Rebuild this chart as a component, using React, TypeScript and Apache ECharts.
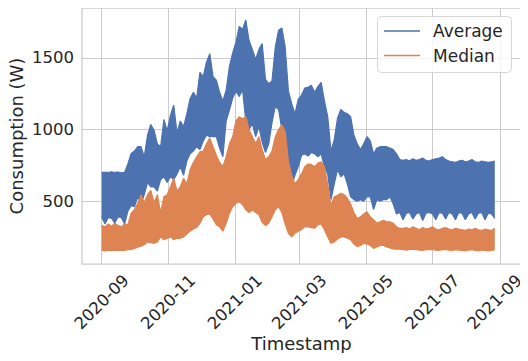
import React, { useEffect, useRef } from "react";
import * as echarts from "echarts";

// Days since 2020-09-01; daily-cycle peaks and troughs read every 3 days (day 0, 3, ..., 363).
const stepDays = 3;
const axisStartDay = -18;
const axisEndDay = 384;

const avgPeaks = [
  700, 700, 700, 705, 700, 702, 698, 700, 760,
  833, 850, 880, 880, 810, 960, 1035, 995, 900, 880, 1070, 990, 1100, 1170, 975, 1060, 1020, 1110, 1215, 1260, 1220, 1400,
  1370, 1470, 1530, 1370, 1345, 1260, 1200, 1275, 1440, 1535, 1610, 1720, 1700, 1765, 1620, 1560, 1490, 1560, 1600, 1350,
  1320, 1340, 1577, 1693, 1710, 1580, 1270, 1180, 1110, 1210,
  1240, 1290, 1295, 1310, 1260, 1300, 1330, 1200, 1090, 850, 930, 1080, 1140, 1120, 1110, 1090, 960, 900, 860, 900, 950,
  920, 830, 870, 880, 880, 880, 870, 860, 830, 790,
  785, 790, 780, 795, 785, 790, 800, 785, 780, 790, 795, 800, 810, 790, 780, 775, 770, 780, 785, 775, 780, 790, 775, 770,
  780, 775, 770, 775, 780, 775,
];

const avgTroughs = [
  390, 340, 385, 380, 345, 390, 385, 340,
  430, 470, 460, 530, 480, 545, 630, 600, 600, 570, 650, 670, 630, 670, 650, 690, 740, 680, 780, 830, 850, 880,
  860, 920, 960, 950, 950, 950, 870, 810, 1060, 1135, 1220, 1270, 1230, 1280, 1060, 1000, 1040, 950, 1020, 910, 840, 900,
  1050, 1160, 1140, 1000, 870, 760, 610, 680,
  740, 820, 830, 815, 840, 830, 810, 830, 740, 690, 510, 620, 720, 670, 690, 620, 530, 510, 500, 510, 500, 530, 530, 440,
  510, 500, 510, 510, 530, 480, 410,
  420, 370, 415, 420, 375, 410, 420, 365, 415, 420, 410, 370, 420, 415, 375, 420, 410, 370, 420, 415, 370, 410, 420, 375,
  415, 420, 370, 415, 410, 380,
];

const medPeaks = [
  330, 320, 340, 325, 345, 330, 320, 340, 335,
  415, 440, 485, 545, 490, 545, 575, 490, 545, 420, 530, 545, 600, 660, 570, 600, 660, 620, 720, 770, 810, 845,
  850, 900, 940, 880, 820, 770, 740, 810, 900, 950, 1060, 1090, 1075, 1090, 1000, 950, 900, 950, 860, 790, 810, 850, 950,
  1000, 1031, 990, 780, 680, 620, 650,
  690, 740, 760, 755, 740, 765, 775, 740, 620, 470, 530, 540, 555, 545, 520, 480, 420, 380, 390, 410, 425, 390, 370, 345,
  355, 365, 355, 355, 345, 320, 310,
  310, 315, 305, 320, 310, 300, 315, 305, 310, 320, 305, 300, 310, 315, 305, 300, 310, 305, 300, 295, 305, 300, 310, 300,
  295, 305, 300, 295, 310, 320,
];

const medTroughs = [
  155, 152, 155, 158, 155, 156, 158, 155,
  160, 162, 170, 178, 185, 195, 215, 210, 205, 215, 250, 230, 240, 250, 230, 240, 240, 250, 270, 290, 305, 315,
  345, 390, 405, 410, 375, 335, 320, 290, 345, 415, 460, 485, 495, 475, 440, 420, 440, 420, 405, 350, 330, 345, 390, 440,
  460, 420, 340, 275, 250, 275,
  290, 300, 320, 320, 315, 310, 335, 340, 300, 250, 205, 215, 235, 250, 250, 240, 230, 200, 182, 190, 205, 200, 190, 170,
  180, 190, 190, 180, 172, 165, 165,
  165, 160, 158, 162, 165, 160, 158, 155, 160, 163, 160, 158, 155, 160, 162, 158, 155, 160, 158, 155, 152, 158, 160, 155,
  152, 158, 155, 152, 155, 160,
];

const tickDays = [0, 61, 122, 181, 242, 303, 365];
const tickLabels = ["2020-09", "2020-11", "2021-01", "2021-03", "2021-05", "2021-07", "2021-09"];
const yTicks = [500, 1000, 1500];
const seriesNames = ["Average", "Median"];

const FONT = "DejaVu Sans";
const TXT = "#262626";
const BLUE = "#4c72b0";
const ORANGE = "#dd8452";

// hidden category axis: one slot per 3-day sample, padded to the plot margins
const slotCount = (axisEndDay - axisStartDay) / stepDays + 1;
const slotDays = Array.from({ length: slotCount }, (_, i) => String(axisStartDay + i * stepDays));
const lead = (0 - axisStartDay) / stepDays;

function pad(values: (number | null)[]) {
  const out: (number | null)[] = new Array(slotCount).fill(null);
  values.forEach((v, i) => {
    out[lead + i] = v;
  });
  return out;
}

function band(name: string, color: string, peaks: number[], troughs: number[], z: number) {
  const stack = name + "-band";
  const common = {
    type: "line",
    xAxisIndex: 1,
    stack,
    z,
    symbol: "none",
    showSymbol: false,
    silent: true,
    color,
    connectNulls: false,
  };
  return [
    {
      ...common,
      name: name + " low",
      lineStyle: { color, width: 1.2 },
      data: pad(troughs),
    },
    {
      ...common,
      name,
      lineStyle: { color, width: 1.2 },
      areaStyle: { color, opacity: 1 },
      data: pad(peaks.map((p, i) => p - troughs[i])),
    },
  ];
}

function legendGraphics() {
  const colors = [BLUE, ORANGE];
  const rowY = [31, 55.5];
  const els: any[] = [
    {
      type: "rect",
      z: 100,
      shape: { x: 377.5, y: 16.5, width: 134, height: 56, r: 4 },
      style: { fill: "rgba(255,255,255,0.8)", stroke: "#d6d6d6", lineWidth: 1 },
    },
  ];
  seriesNames.forEach((n, i) => {
    els.push({
      type: "line",
      z: 101,
      shape: { x1: 384, y1: rowY[i], x2: 420, y2: rowY[i] },
      style: { stroke: colors[i], lineWidth: 1.5 },
    });
    els.push({
      type: "text",
      z: 101,
      x: 433,
      y: rowY[i],
      style: {
        text: n,
        fontFamily: FONT,
        fontSize: 17,
        fill: TXT,
        verticalAlign: "middle",
        textVerticalAlign: "middle",
      },
    });
  });
  return els;
}

export default function App() {
  const ref = useRef<HTMLDivElement>(null);
  useEffect(() => {
    if (!ref.current) return;
    const chart = echarts.init(ref.current, undefined, { renderer: "svg" });
    chart.setOption({
      animation: false,
      backgroundColor: "#ffffff",
      textStyle: { fontFamily: FONT, color: TXT },
      grid: {
        left: 82,
        right: 7,
        top: 8,
        bottom: 97,
        show: true,
        borderColor: "#cccccc",
        borderWidth: 1.25,
        containLabel: false,
        outerBoundsMode: "none",
      },
      graphic: legendGraphics(),
      xAxis: [
        {
          type: "value",
          min: axisStartDay,
          max: axisEndDay,
          name: "Timestamp",
          nameLocation: "middle",
          nameGap: 70,
          nameMoveOverlap: false,
          nameTextStyle: { fontFamily: FONT, fontSize: 18, color: TXT },
          axisLine: { show: false },
          axisTick: { show: false, customValues: tickDays },
          axisLabel: {
            customValues: tickDays,
            rotate: 45,
            align: "center",
            verticalAlign: "middle",
            margin: 38,
            fontFamily: FONT,
            fontSize: 16.5,
            color: TXT,
            formatter: (v: number) => {
              const i = tickDays.indexOf(Math.round(v));
              if (i < 0) return "";
              return i === tickDays.length - 1 ? "{e|" + tickLabels[i] + "}" : tickLabels[i];
            },
            rich: {
              e: { fontFamily: FONT, fontSize: 16.5, color: TXT, padding: [0, 8, 8, 0] },
            },
          },
          splitLine: { show: true, lineStyle: { color: "#cccccc", width: 1 } },
        },
        {
          type: "category",
          data: slotDays,
          boundaryGap: false,
          show: false,
        },
      ],
      yAxis: {
        type: "value",
        min: 60.5,
        max: 1849,
        name: "Consumption (W)",
        nameLocation: "middle",
        nameGap: 57,
        nameMoveOverlap: false,
        nameTextStyle: { fontFamily: FONT, fontSize: 18, color: TXT },
        axisLine: { show: false },
        axisTick: { show: false, customValues: yTicks },
        axisLabel: {
          customValues: yTicks,
          margin: 8,
          fontFamily: FONT,
          fontSize: 16.5,
          color: TXT,
          formatter: (v: number) => String(v),
        },
        splitLine: { show: true, lineStyle: { color: "#cccccc", width: 1 } },
      },
      series: [
        ...band(seriesNames[0], BLUE, avgPeaks, avgTroughs, 2),
        ...band(seriesNames[1], ORANGE, medPeaks, medTroughs, 3),
      ],
    });
    return () => chart.dispose();
  }, []);
  return <div ref={ref} style={{ width: 528, height: 361, margin: -8 }} />;
}
